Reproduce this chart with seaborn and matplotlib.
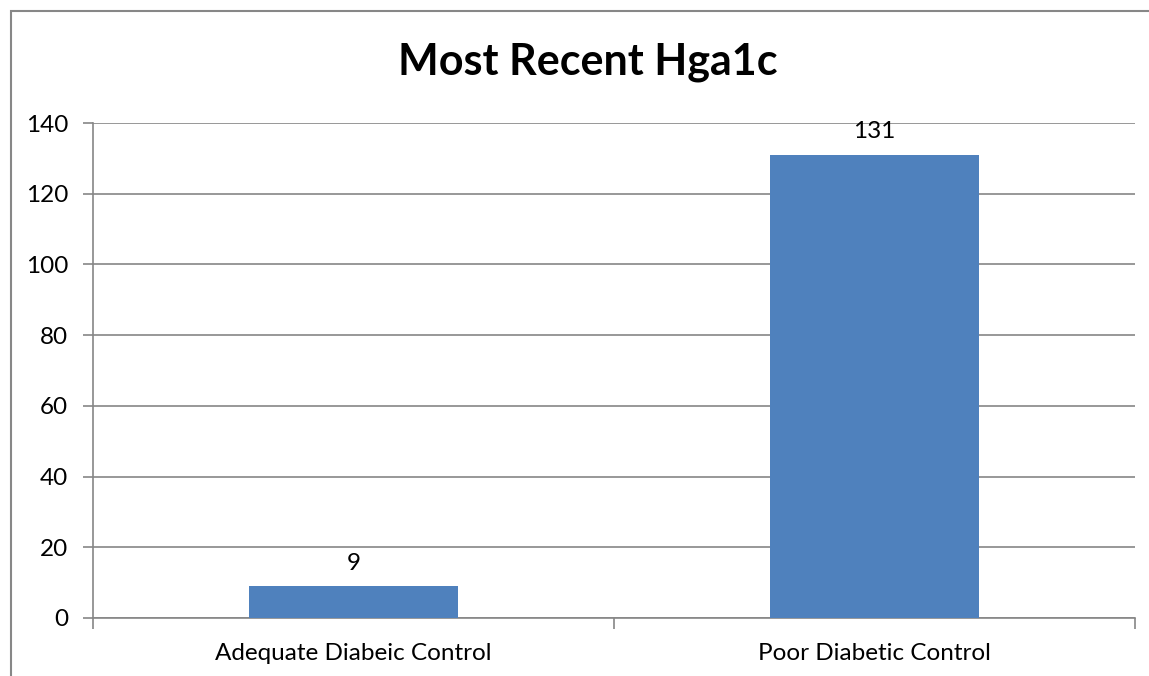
import matplotlib
matplotlib.use("Agg")
import matplotlib.pyplot as plt
from matplotlib.patches import Rectangle
import seaborn as sns
import pandas as pd

categories = ["Adequate Diabeic Control", "Poor Diabetic Control"]
counts = [9, 131]
y_ticks = [0, 20, 40, 60, 80, 100, 120, 140]
title = "Most Recent Hga1c"

sns.set_theme(style="white")
plt.rcParams["font.family"] = ["Lato", "DejaVu Sans"]

W, H = 1149, 676
fig = plt.figure(figsize=(W / 100, H / 100), dpi=100)
ax = fig.add_axes([93 / W, 1 - 618 / H, (1135 - 93) / W, (618 - 123) / H])

df = pd.DataFrame({"category": categories, "count": counts})
sns.barplot(data=df, x="category", y="count", color="#4F81BD", saturation=1,
            width=0.4, linewidth=0, ax=ax, zorder=3)

ax.set_xlim(-0.5, len(categories) - 0.5)
ax.set_ylim(0, 140)
ax.set_yticks(y_ticks)
ax.yaxis.grid(True, color="#868686", linewidth=1.2, zorder=0)
ax.set_axisbelow(True)

for side in ("top", "right"):
    ax.spines[side].set_visible(False)
for side in ("left", "bottom"):
    ax.spines[side].set_color("#868686")
    ax.spines[side].set_linewidth(1.2)

# category boundary ticks on x, outward ticks on y
ax.set_xticks([i for i in range(len(categories))])
ax.set_xticks([i - 0.5 for i in range(len(categories) + 1)], minor=True)
ax.tick_params(axis="x", which="major", length=0, pad=18, labelsize=17.5, labelcolor="black")
ax.tick_params(axis="x", which="minor", length=8, width=1.2, color="#868686", bottom=True)
ax.tick_params(axis="y", length=7, width=1.2, color="#868686", left=True, pad=11,
               labelsize=17.5, labelcolor="black")
ax.set_xlabel("")
ax.set_ylabel("")

for c in ax.containers:
    ax.bar_label(c, labels=[str(v) for v in counts], padding=9, fontsize=17.5, color="black")

fig.text(588 / W, 1 - 62 / H, title, ha="center", va="center", fontsize=31,
         fontweight="bold", color="black")

# chart-area border
fig.patches.append(Rectangle((11 / W, -0.1), 1.2, 1 - 11 / H + 0.1,
                             transform=fig.transFigure, fill=False,
                             edgecolor="#878787", linewidth=1.5))

fig.savefig("out.png", dpi=100, facecolor="white")
